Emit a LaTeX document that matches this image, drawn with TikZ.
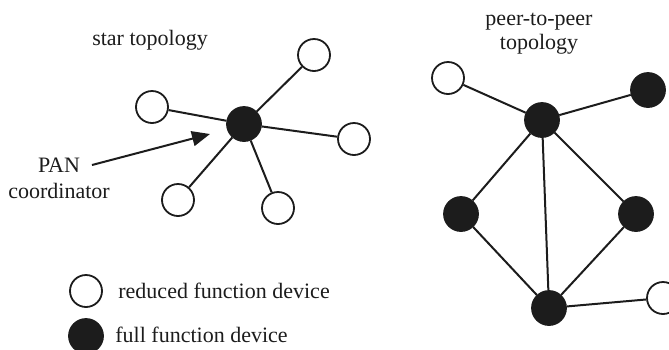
\documentclass[tikz,border=0pt]{standalone}
\usepackage{fontspec}
\setmainfont{Liberation Serif}
\usetikzlibrary{arrows.meta}
\definecolor{ink}{HTML}{1C1C1C}
\tikzset{
  rfd/.style={circle, draw=ink, line width=0.9pt, fill=white, minimum size=16pt, inner sep=0pt},
  ffd/.style={circle, draw=ink, line width=0.9pt, fill=ink, minimum size=17pt, inner sep=0pt},
  link/.style={draw=ink, line width=1pt},
  lbl/.style={font=\fontsize{11pt}{11pt}\selectfont, text=ink, inner sep=0pt},
}
\begin{document}
\begin{tikzpicture}[x=0.5pt, y=-0.5pt]
\useasboundingbox (0,0) rectangle (669,349);

% star topology
\node[lbl] (starlbl) at (150,40) {star topology};
\node[ffd] (hub) at (244,124) {};
\node[rfd] (s1) at (314,55) {};
\node[rfd] (s2) at (152,107) {};
\node[rfd] (s3) at (354,139) {};
\node[rfd] (s4) at (178,200) {};
\node[rfd] (s5) at (278,208) {};
\foreach \n in {s1,s2,s3,s4,s5} \draw[link] (hub) -- (\n);

% PAN coordinator pointer
\node[lbl, align=center] (pan) at (59,178) {PAN\\[2pt]coordinator};
\coordinate (pantail) at (92,165);
\coordinate (pantip) at (210,134);
\draw[link, -{Triangle[length=9pt, width=7.5pt]}] (pantail) -- (pantip);

% peer-to-peer topology
\node[lbl, align=center] (p2plbl) at (539,34) {peer-to-peer\\[1pt]topology};
\node[rfd] (pa) at (448,78) {};
\node[ffd] (pb) at (542,120) {};
\node[ffd] (pc) at (648,90) {};
\node[ffd] (pd) at (461,214) {};
\node[ffd] (pe) at (636,214) {};
\node[ffd] (pf) at (549,308) {};
\node[rfd] (pg) at (663,298) {};
\draw[link] (pa) -- (pb);
\draw[link] (pb) -- (pc);
\draw[link] (pb) -- (pd);
\draw[link] (pb) -- (pe);
\draw[link] (pb) -- (pf);
\draw[link] (pd) -- (pf);
\draw[link] (pe) -- (pf);
\draw[link] (pf) -- (pg);

% legend
\node[rfd] (keyr) at (86,291) {};
\node[lbl, anchor=west] (keyrtxt) at (118,291) {reduced function device};
\node[ffd] (keyf) at (86,336) {};
\node[lbl, anchor=west] (keyftxt) at (115,335) {full function device};
\end{tikzpicture}
\end{document}
